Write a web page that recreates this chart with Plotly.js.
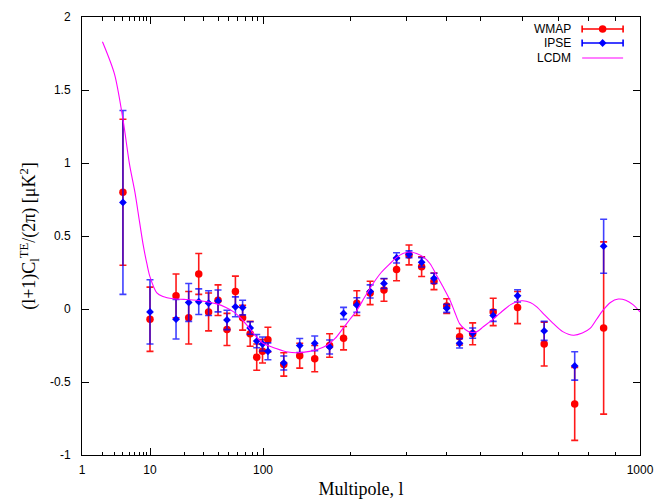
<!DOCTYPE html>
<html>
<head>
<meta charset="utf-8">
<script src="https://cdn.plot.ly/plotly-3.0.1.min.js"></script>
<style>html,body{margin:0;padding:0;background:#fff;}#chart{width:659px;height:500px;}</style>
</head>
<body>
<div id="chart"></div>
<script>
// ---- data (multipole l, TE values and 1-sigma errors) ----
const multipole = [4, 10, 17, 22, 27, 33, 40, 48, 57, 66, 77, 88, 99, 104, 118, 134, 151, 170, 190, 210, 231, 255, 279, 305, 334, 365, 400, 436, 476, 529, 587, 659, 754, 855];
const wmapTE  = [0.80, -0.07, 0.09, -0.06, 0.24, -0.02, 0.06, -0.14, 0.12, -0.06, -0.17, -0.33, -0.29, -0.21, -0.38, -0.32, -0.34, -0.25, -0.20, 0.04, 0.11, 0.13, 0.27, 0.37, 0.29, 0.19, 0.02, -0.19, -0.17, -0.02, 0.01, -0.24, -0.65, -0.13];
const wmapErr = [0.50, 0.22, 0.15, 0.18, 0.14, 0.13, 0.105, 0.11, 0.105, 0.085, 0.085, 0.09, 0.08, 0.085, 0.08, 0.085, 0.09, 0.08, 0.08, 0.085, 0.08, 0.077, 0.077, 0.068, 0.067, 0.057, 0.05, 0.057, 0.075, 0.094, 0.11, 0.15, 0.25, 0.59];
const ipseTE  = [0.73, -0.02, -0.07, 0.045, 0.05, 0.04, 0.055, -0.075, 0.015, 0.01, -0.13, -0.22, -0.24, -0.29, -0.37, -0.25, -0.235, -0.26, -0.03, 0.027, 0.12, 0.175, 0.35, 0.375, 0.32, 0.21, 0.005, -0.235, -0.165, -0.045, 0.09, -0.15, -0.39, 0.43];
const ipseErr = [0.63, 0.22, 0.135, 0.13, 0.088, 0.085, 0.075, 0.066, 0.068, 0.05, 0.043, 0.045, 0.048, 0.058, 0.048, 0.048, 0.05, 0.048, 0.041, 0.05, 0.045, 0.034, 0.035, 0.023, 0.032, 0.035, 0.028, 0.032, 0.035, 0.04, 0.042, 0.065, 0.097, 0.185];
const lcdmL  = [2, 3, 4, 5, 6, 7, 8, 9, 10, 11.5, 13, 16, 20, 26, 32, 39, 47, 55, 63, 72, 85, 100, 111, 122, 131, 145, 155, 166, 178, 188, 200, 210, 222, 236, 250, 266, 280, 292, 307, 322, 338, 355, 370, 390, 409, 422, 436, 453, 470, 490, 507, 525, 544, 570, 597, 620, 638, 660, 686, 715, 750, 780, 807, 830, 853, 880, 910, 940, 970, 1000];
const lcdmTE = [1.83, 1.61, 1.30, 0.99, 0.80, 0.60, 0.43, 0.31, 0.22, 0.11, 0.085, 0.07, 0.066, 0.06, 0.05, 0.035, 0.01, -0.02, -0.06, -0.11, -0.18, -0.235, -0.27, -0.295, -0.30, -0.29, -0.275, -0.25, -0.20, -0.14, -0.07, -0.01, 0.08, 0.175, 0.25, 0.31, 0.355, 0.38, 0.39, 0.38, 0.357, 0.31, 0.24, 0.15, 0.06, -0.02, -0.10, -0.14, -0.16, -0.155, -0.122, -0.08, -0.03, 0.03, 0.056, 0.045, 0.015, -0.04, -0.10, -0.155, -0.18, -0.165, -0.133, -0.07, -0.008, 0.045, 0.068, 0.06, 0.03, -0.02];
const xTickLabels = ['1', '10', '100', '1000'];
const yTickVals = [-1, -0.5, 0, 0.5, 1, 1.5, 2];
const yTickLabels = ['-1', '-0.5', '0', '0.5', '1', '1.5', '2'];

// ---- the reference's multipole axis scale (log below 100, stretched above) ----
const scaleL = [1, 10, 100, 200, 300, 400, 500, 600, 700, 800, 900, 1000];
const scaleP = [0, 68, 181, 268, 324.7, 364.7, 398, 440.7, 476, 506, 533.7, 558];
function xmap(l) {
  const g = Math.log10(l);
  for (let i = 0; i < scaleL.length - 1; i++) {
    const a = Math.log10(scaleL[i]), b = Math.log10(scaleL[i + 1]);
    if (g <= b || i === scaleL.length - 2) {
      return scaleP[i] + (scaleP[i + 1] - scaleP[i]) * (g - a) / (b - a);
    }
  }
}
const majorL = [1, 10, 100, 1000];
const minorL = [];
[1, 10, 100].forEach(d => { for (let k = 2; k <= 9; k++) minorL.push(k * d); });

const xs = multipole.map(xmap);

const traces = [
  {
    x: xs, y: wmapTE, type: 'scatter', mode: 'markers', name: 'WMAP', showlegend: false,
    marker: {color: '#ff0000', size: 7.5, symbol: 'circle'},
    error_y: {type: 'data', array: wmapErr, visible: true, color: 'rgba(255,0,0,0.9)', thickness: 1.6, width: 3.5}
  },
  {
    x: xs, y: ipseTE, type: 'scatter', mode: 'markers', name: 'IPSE', showlegend: false,
    marker: {color: '#0000ff', size: 6, symbol: 'diamond'},
    error_y: {type: 'data', array: ipseErr, visible: true, color: 'rgba(0,0,255,0.75)', thickness: 1.6, width: 3.5}
  },
  {
    x: lcdmL.map(xmap), y: lcdmTE, type: 'scatter', mode: 'lines', name: 'LCDM', showlegend: false,
    line: {color: '#ff00ff', width: 1.1, shape: 'spline', smoothing: 0.8}
  },
  // legend keys (gnuplot style: text then sample) on a hidden overlay axis
  {
    x: [0.933], y: [0.9726], xaxis: 'x2', yaxis: 'y2', mode: 'markers', type: 'scatter', showlegend: false, hoverinfo: 'skip',
    marker: {color: '#ff0000', size: 7.5},
    error_x: {type: 'data', array: [0.0367], visible: true, color: '#ff0000', thickness: 1.6, width: 3.5}
  },
  {
    x: [0.933], y: [0.9406], xaxis: 'x2', yaxis: 'y2', mode: 'markers', type: 'scatter', showlegend: false, hoverinfo: 'skip',
    marker: {color: '#0000ff', size: 6, symbol: 'diamond'},
    error_x: {type: 'data', array: [0.0367], visible: true, color: '#0000ff', thickness: 1.6, width: 3.5}
  },
  {
    x: [0.8963, 0.9697], y: [0.9064, 0.9064], xaxis: 'x2', yaxis: 'y2', mode: 'lines', type: 'scatter', showlegend: false, hoverinfo: 'skip',
    line: {color: '#ff00ff', width: 1.1}
  }
];

const tickFont = {family: 'Liberation Sans, Arial, sans-serif', size: 12, color: '#000'};
const layout = {
  width: 659, height: 500,
  margin: {l: 82, r: 19, t: 17, b: 45, pad: 0},
  paper_bgcolor: '#fff', plot_bgcolor: '#fff',
  showlegend: false,
  xaxis: {
    range: [0, 558], showgrid: false, zeroline: false,
    showline: true, linecolor: '#000', linewidth: 1, mirror: 'ticks',
    ticks: 'inside', ticklen: 7, tickwidth: 1, tickcolor: '#000',
    tickmode: 'array', tickvals: majorL.map(xmap), ticktext: xTickLabels,
    minor: {tickmode: 'array', tickvals: minorL.map(xmap), ticks: 'inside', ticklen: 3.5, tickwidth: 1, tickcolor: '#000'},
    tickfont: tickFont, ticklabelstandoff: 4,
    title: {text: 'Multipole, l', font: {family: 'Liberation Serif, Times New Roman, serif', size: 18, color: '#000'}, standoff: 5}
  },
  yaxis: {
    range: [-1, 2], showgrid: false, zeroline: false,
    showline: true, linecolor: '#000', linewidth: 1, mirror: 'ticks',
    ticks: 'inside', ticklen: 7, tickwidth: 1, tickcolor: '#000',
    tickmode: 'array', tickvals: yTickVals, ticktext: yTickLabels,
    tickfont: tickFont, ticklabelstandoff: 8,
    title: {text: '(l+1)C<sub>l</sub><sup>TE</sup>/(2π) [μK<sup>2</sup>]', font: {family: 'Liberation Serif, Times New Roman, serif', size: 18, color: '#000'}, standoff: 9}
  },
  xaxis2: {overlaying: 'x', range: [0, 1], visible: false, fixedrange: true},
  yaxis2: {overlaying: 'y', range: [0, 1], visible: false, fixedrange: true},
  annotations: [
    {text: 'WMAP', xref: 'paper', yref: 'paper', x: 0.88, y: 0.9726, xanchor: 'right', yanchor: 'middle', showarrow: false, font: tickFont},
    {text: 'IPSE', xref: 'paper', yref: 'paper', x: 0.88, y: 0.9406, xanchor: 'right', yanchor: 'middle', showarrow: false, font: tickFont},
    {text: 'LCDM', xref: 'paper', yref: 'paper', x: 0.88, y: 0.9064, xanchor: 'right', yanchor: 'middle', showarrow: false, font: tickFont}
  ]
};

Plotly.newPlot('chart', traces, layout, {staticPlot: true, displayModeBar: false});
</script>
</body>
</html>
